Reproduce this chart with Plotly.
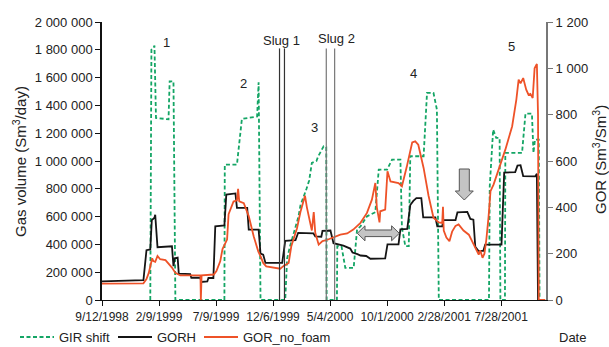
import pandas as pd
import plotly.graph_objects as go

START = pd.Timestamp("1998-09-12")
END = pd.Timestamp("2001-11-23")

# ---- data (x = days since 9/12/1998) ----
GIR_DAYS = [127, 130, 135, 138, 142, 175, 178, 188, 193, 322, 323, 355, 368, 408, 412, 417,
            482, 487, 495, 503, 517, 522, 530, 538, 545, 552, 564, 569, 583, 590, 591,
            618, 619, 630, 640, 662, 671, 680, 697, 719, 728, 750, 763, 785, 789, 798, 807,
            811, 846, 855, 872, 881, 886, 1018, 1020, 1029, 1037, 1046, 1048, 1060, 1061,
            1105, 1114, 1131, 1135, 1139, 1149, 1151]
GIR_VALUES = [0, 1800000, 1810000, 1830000, 1310000, 1300000, 1573000, 1573000, 0, 0, 974000,
              974000, 1303000, 1320000, 1566000, 0,
              0, 300000, 390000, 470000, 602000, 680000, 735000, 800000, 860000, 986000,
              1000000, 1034000, 1106000, 1100000, 0,
              0, 387000, 387000, 231000, 231000, 507000, 530000, 602000, 631000, 938000,
              938000, 1010000, 1010000, 519000, 387000, 387000,
              1034000, 1034000, 1490000, 1490000, 1370000, 0, 0, 818000, 1226000, 1166000,
              1166000, 0, 0, 1058000,
              1058000, 1341000, 1341000, 1058000, 1154000, 1154000, 0]

GORH_DAYS = [0, 61, 109, 117, 127, 131, 138, 140, 143, 146, 184, 188, 191, 199, 202, 232, 235,
             259, 261, 277, 280, 293, 298, 322, 327, 351, 355, 382, 386, 412, 417, 424, 430,
             474, 482, 509, 516, 556, 561, 577, 580, 601, 609, 627, 635, 653, 659, 672, 680,
             695, 706, 745, 751, 780, 785, 803, 811, 819, 827, 840, 845, 877, 882, 895, 898,
             930, 935, 961, 969, 977, 982, 990, 1003, 1008, 1051, 1058, 1087, 1093, 1101,
             1108, 1140, 1144, 1147]
GORH_VALUES = [80, 84, 86, 215, 218, 345, 355, 368, 290, 228, 232, 146, 180, 183, 114, 112, 96,
               96, 78, 80, 95, 95, 318, 322, 455, 460, 398, 398, 304, 304, 200, 196, 160,
               160, 255, 258, 290, 288, 275, 273, 298, 300, 245, 240, 235, 222, 205, 198, 192,
               190, 178, 180, 240, 240, 305, 307, 410, 428, 440, 440, 357, 357, 318, 318, 345,
               345, 378, 380, 350, 347, 230, 212, 212, 239, 239, 550, 552, 580, 582,
               535, 534, 545, 0]

NOFOAM_DAYS = [0, 109, 117, 123, 132, 135, 140, 146, 153, 167, 184, 193, 206, 259, 260, 262,
               294, 301, 311, 317, 329, 333, 346, 355, 358, 361, 373, 386, 399, 411, 417, 424,
               432, 451, 469, 477, 491, 498, 513, 522, 527, 534, 539, 545, 552, 557, 561, 570,
               580, 593, 609, 627, 645, 661, 680, 697, 710, 719, 723, 730, 732, 745, 751, 759,
               780, 789, 802, 816, 824, 832, 846, 859, 872, 886, 895, 897, 899, 906, 914, 921,
               930, 938, 951, 965, 978, 985, 991, 995, 1001, 1006, 1011, 1017, 1022, 1030,
               1043, 1061, 1079, 1090, 1096, 1101, 1108, 1116, 1122, 1127, 1133, 1138, 1144,
               1147, 1149, 1166]
NOFOAM_VALUES = [71, 72, 90, 117, 180, 168, 165, 190, 176, 172, 140, 117, 106, 106, 0, 106,
                 110, 125, 167, 220, 261, 370, 425, 430, 480, 426, 418, 362, 275, 210, 189, 160,
                 145, 139, 135, 146, 160, 232, 310, 380, 410, 450, 400, 360, 300, 380, 290, 239,
                 254, 260, 272, 282, 287, 304, 333, 376, 433, 505, 400, 335, 383, 390, 556, 512,
                 505, 491, 577, 680, 685, 670, 570, 450, 355, 335, 333, 402, 300, 270, 254, 295,
                 320, 326, 300, 282, 239, 218, 196, 215, 182, 200, 260, 361, 470, 498,
                 560, 649, 750, 865, 951, 935, 958, 908, 886, 890, 872, 1000, 1019,
                 800, 0, 0]

SLUG_DAYS = [467, 480, 590, 612]
SLUG_COLORS = ["#333333", "#333333", "#777777", "#777777"]
SLUG_TOP = 1810000

TICK_DATES = ["1998-09-12", "1999-02-09", "1999-07-09", "1999-12-06", "2000-05-04",
              "2000-10-01", "2001-02-28", "2001-07-28"]
TICK_TEXT = ["9/12/1998", "2/9/1999", "7/9/1999", "12/6/1999", "5/4/2000",
             "10/1/2000", "2/28/2001", "7/28/2001"]

SERIES_NAMES = ["GIR shift", "GORH", "GOR_no_foam"]


def to_dates(days):
    return [START + pd.Timedelta(days=d) for d in days]


GREEN = "#14a565"
RED = "#ee5228"
BLACK = "#151515"
GIR_DASH = "4px,2.5px"
FONT = "Liberation Sans, Arial, sans-serif"

fig = go.Figure()
fig.add_trace(go.Scatter(x=to_dates(GIR_DAYS), y=GIR_VALUES, mode="lines", name=SERIES_NAMES[0],
                         line=dict(color=GREEN, width=1.8, dash=GIR_DASH)))
fig.add_trace(go.Scatter(x=to_dates(GORH_DAYS), y=GORH_VALUES, mode="lines", name=SERIES_NAMES[1],
                         yaxis="y2", line=dict(color=BLACK, width=1.8)))
fig.add_trace(go.Scatter(x=to_dates(NOFOAM_DAYS), y=NOFOAM_VALUES, mode="lines",
                         name=SERIES_NAMES[2], yaxis="y2", line=dict(color=RED, width=1.8)))

shapes = []
for d, c in zip(SLUG_DAYS, SLUG_COLORS):
    t = START + pd.Timedelta(days=d)
    shapes.append(dict(type="line", xref="x", yref="y", x0=t, x1=t, y0=0, y1=SLUG_TOP,
                       line=dict(color=c, width=1.2)))

L, T, W, H = 102, 22, 444, 278


def px(x):
    return (x - L) / W


def py(y):
    return (T + H - y) / H


def pp(pts):
    s = ""
    for i, (x, y) in enumerate(pts):
        s += ("M" if i == 0 else "L") + f"{px(x):.5f},{py(y):.5f} "
    return s + "Z"


double_arrow = [(357.3, 233.3), (365, 225.8), (365, 230), (391.6, 230), (391.6, 225.8),
                (399.3, 233.3), (391.6, 240.8), (391.6, 236.6), (365, 236.6), (365, 240.8)]
down_arrow = [(459.3, 169), (469.3, 169), (469.3, 191), (473.3, 191), (464.3, 200),
              (455.3, 191), (459.3, 191)]
for pts in (double_arrow, down_arrow):
    shapes.append(dict(type="path", xref="paper", yref="paper", path=pp(pts),
                       fillcolor="#c4c4c4", line=dict(color="#555555", width=1)))

ann = []
labels = [("1", 166, 43), ("2", 243.3, 83), ("3", 314, 127), ("4", 413.3, 73),
          ("5", 511, 46.5), ("Slug 1", 281.5, 40), ("Slug 2", 336, 39), ("Date", 572, 337)]
for txt, x, y in labels:
    ann.append(dict(text=txt, xref="paper", yref="paper", x=px(x), y=py(y),
                    showarrow=False, xanchor="center", yanchor="middle",
                    font=dict(size=13, color="#222", family=FONT)))

# manual legend (keeps plot area fixed)
legend_items = [(SERIES_NAMES[0], GREEN, GIR_DASH, 20), (SERIES_NAMES[1], BLACK, "solid", 118),
                (SERIES_NAMES[2], RED, "solid", 204)]
for name, col, dash, x0 in legend_items:
    shapes.append(dict(type="line", xref="paper", yref="paper", x0=px(x0), x1=px(x0 + 34),
                       y0=py(337), y1=py(337), line=dict(color=col, width=2, dash=dash)))
    ann.append(dict(text=name, xref="paper", yref="paper", x=px(x0 + 37), y=py(337),
                    showarrow=False, xanchor="left", yanchor="middle",
                    font=dict(size=13, color="#222", family=FONT)))

ann.append(dict(text="Gas volume (Sm<sup>3</sup>/day)", xref="paper", yref="paper",
                x=px(19), y=py(162), showarrow=False, textangle=-90,
                xanchor="center", yanchor="middle", font=dict(size=15, color="#222", family=FONT)))
ann.append(dict(text="GOR (Sm<sup>3</sup>/Sm<sup>3</sup>)", xref="paper", yref="paper",
                x=px(599), y=py(160), showarrow=False, textangle=-90,
                xanchor="center", yanchor="middle", font=dict(size=15, color="#222", family=FONT)))

fig.update_layout(
    width=609, height=347,
    margin=dict(l=L, r=609 - L - W, t=T, b=347 - T - H),
    paper_bgcolor="white", plot_bgcolor="white",
    separators=". ",
    font=dict(family=FONT, size=13, color="#222"),
    showlegend=False,
    xaxis=dict(type="date", range=[START, END], tickmode="array", tickvals=TICK_DATES,
               ticktext=TICK_TEXT, tickangle=0, showgrid=False, zeroline=False,
               showline=True, linecolor="#111", linewidth=1.2, ticks="outside",
               ticklen=5, tickcolor="#111", tickfont=dict(size=12), automargin=False),
    yaxis=dict(range=[0, 2000000], dtick=200000, tick0=0, tickformat=",d", showgrid=False,
               zeroline=False, showline=True, linecolor="#111", linewidth=1.5,
               ticks="outside", ticklen=5, tickcolor="#111", tickfont=dict(size=13),
               automargin=False),
    yaxis2=dict(range=[0, 1200], dtick=200, tick0=0, tickformat=",d", overlaying="y",
                side="right", showgrid=False, zeroline=False, showline=True,
                linecolor="#777", linewidth=2, ticks="outside", ticklen=5,
                tickcolor="#777", tickfont=dict(size=13), automargin=False),
    shapes=shapes,
    annotations=ann,
)

fig.write_html("out.html")
